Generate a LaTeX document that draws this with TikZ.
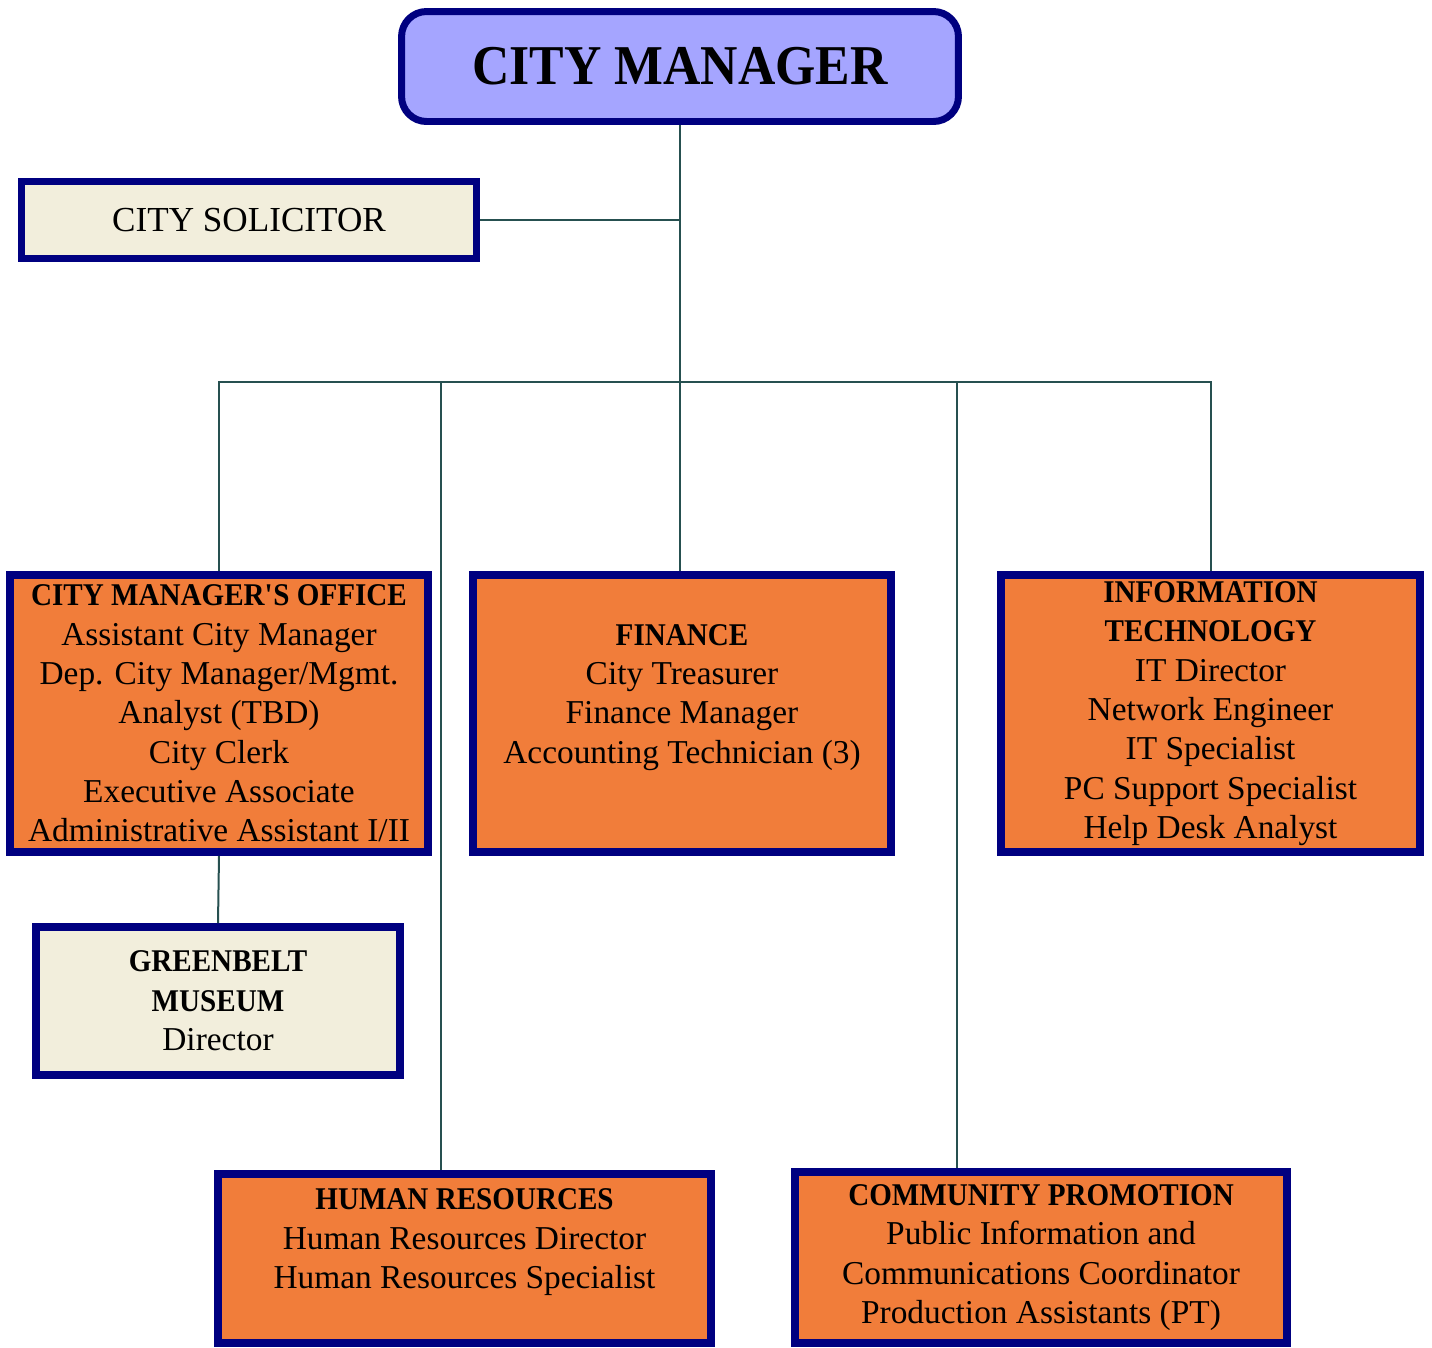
\documentclass[tikz,border=0pt]{standalone}
\usepackage{fontspec}
\setmainfont{Liberation Serif}
\newfontfamily\narrowserif[FakeStretch=0.92]{Liberation Serif}
\usetikzlibrary{positioning}

\definecolor{navyline}{RGB}{0,0,128}
\definecolor{mgrfill}{RGB}{165,165,255}
\definecolor{deptfill}{RGB}{241,125,58}
\definecolor{creamfill}{RGB}{242,238,220}
\definecolor{linkline}{RGB}{38,80,80}
\newcommand{\depthead}[1]{{\narrowserif\bfseries\fontsize{18pt}{22.4pt}\selectfont #1}}

\begin{document}
\begin{tikzpicture}[
    x=0.02cm, y=-0.02cm,
    every node/.style={font=\fontsize{19pt}{22.4pt}\selectfont, align=center, inner sep=0pt},
    box/.style={rectangle, draw=navyline, line width=0.16cm, fill=#1},
    box/.default=deptfill,
    link/.style={draw=linkline, line width=0.04cm},
]
    \useasboundingbox (0,0) rectangle (1432,1347);

    % top level
    \node[box=mgrfill, rounded corners=0.5cm, line width=0.14cm, minimum width=11.14cm, minimum height=2.2cm,
          font=\narrowserif\bfseries\fontsize{32pt}{36pt}\selectfont] (mgr) at (680,66.5) {CITY MANAGER};
    \node[box=creamfill, line width=0.14cm, minimum width=9.1cm, minimum height=1.54cm,
          font=\fontsize{20pt}{24pt}\selectfont] (sol) at (249,220) {CITY SOLICITOR};

    % departments
    \node[box, minimum width=8.36cm, minimum height=5.54cm] (cmo) at (219,713.5)
        {\depthead{CITY MANAGER\textquotesingle S OFFICE}\\ Assistant City Manager\\ Dep. City Manager/Mgmt.\\
         Analyst (TBD)\\ City Clerk\\ Executive Associate\\ Administrative Assistant I/II};
    \node[box, minimum width=8.36cm, minimum height=5.54cm] (fin) at (682,713.5)
        {\depthead{FINANCE}\\ City Treasurer\\ Finance Manager\\ Accounting Technician (3)\\ ~};
    \node[box, minimum width=8.38cm, minimum height=5.54cm] (it) at (1210.5,713.5)
        {\depthead{INFORMATION}\\ \depthead{TECHNOLOGY}\\ IT Director\\ Network Engineer\\
         IT Specialist\\ PC Support Specialist\\ Help Desk Analyst};
    \node[box=creamfill, minimum width=7.28cm, minimum height=2.96cm] (gm) at (218,1001)
        {\depthead{GREENBELT}\\ \depthead{MUSEUM}\\ Director};
    \node[box, minimum width=9.86cm, minimum height=3.38cm] (hr) at (464.5,1258.5)
        {\depthead{HUMAN RESOURCES}\\ Human Resources Director\\ Human Resources Specialist\\ ~};
    \node[box, minimum width=9.84cm, minimum height=3.42cm] (cp) at (1041,1257.5)
        {\depthead{COMMUNITY PROMOTION}\\ Public Information and\\ Communications Coordinator\\
         Production Assistants (PT)};

    % reporting lines
    \coordinate (bus) at (680,382);
    \coordinate (hrtap) at (441,382);
    \coordinate (cptap) at (957,382);

    \draw[link] (mgr.south) -- (bus);
    \draw[link] (sol.east) -- (sol.east -| mgr.south);
    \draw[link] (cmo.north) |- (bus) -| (it.north);
    \draw[link] (bus) -- (bus |- fin.north);
    \draw[link] (hrtap) -- (hrtap |- hr.north);
    \draw[link] (cptap) -- (cptap |- cp.north);
    \draw[link] (cmo.south) -- (gm.north);
\end{tikzpicture}
\end{document}
